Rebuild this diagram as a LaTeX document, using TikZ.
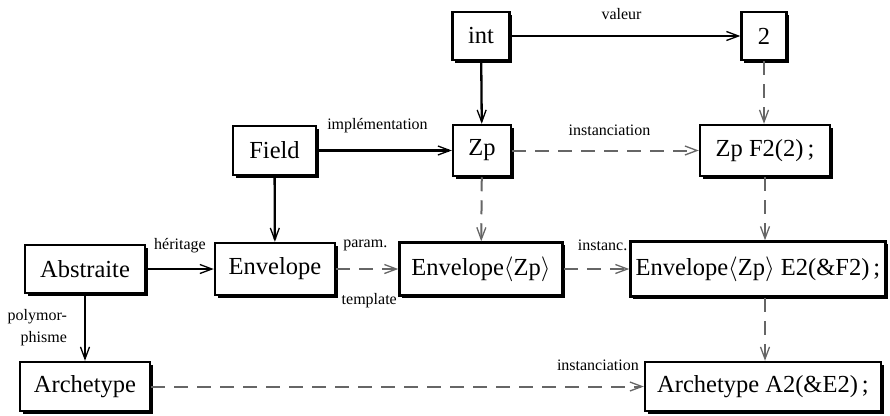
\documentclass[tikz,border=0pt]{standalone}
\usepackage{fontspec}
\setmainfont{Liberation Serif}
\usetikzlibrary{arrows.meta,shadows}
\begin{document}
\begin{tikzpicture}[x=1pt,y=-1pt,
  box/.style={draw=black, line width=2.5pt, fill=white, font=\fontsize{24.5}{27}\selectfont,
    inner sep=0pt, minimum height=48pt,
    drop shadow={shadow xshift=2.6pt, shadow yshift=-2.6pt, fill=black, opacity=1}},
  tip/.style={-{Straight Barb[length=12pt,width=9pt,line width=1.3pt]}},
  sol/.style={tip, line width=2.3pt, draw=black},
  dsh/.style={tip, line width=2pt, draw=black!60, dash pattern=on 14pt off 9pt},
  lbl/.style={font=\fontsize{16}{22}\selectfont, inner sep=0pt, text=black}]
\useasboundingbox (0,0) rectangle (890,415);

\node[box, minimum width=57pt] (int) at (481,36) {int};
\node[box, minimum width=45pt] (two) at (764,36) {2};
\node[box, minimum width=83pt, minimum height=49pt] (field) at (274.5,150.5) {Field};
\node[box, minimum width=58pt, minimum height=51pt] (zp) at (482,150.5) {Zp};
\node[box, minimum width=130pt, minimum height=51pt] (zpf) at (765,150.5) {Zp F2(2)\,;};
\node[box, minimum width=120pt] (abs) at (85,269) {Abstraite};
\node[box, minimum width=120pt, minimum height=52pt] (env) at (275,269) {Envelope};
\node[box, minimum width=163pt, minimum height=53pt] (envzp) at (481,269) {Envelope$\langle$Zp$\rangle$};
\node[box, minimum width=255pt, minimum height=55pt] (e2) at (758,269) {Envelope$\langle$Zp$\rangle$ E2(\&F2)\,;};
\node[box, minimum width=130pt, minimum height=49pt] (arch) at (85,386.5) {Archetype};
\node[box, minimum width=236pt, minimum height=49pt] (a2) at (763,386.5) {Archetype A2(\&E2)\,;};

\draw[sol] (int) -- (two) node[lbl, midway, anchor=base, yshift=17pt, xshift=-4pt] {valeur};
\draw[sol] (int) -- (zp);
\draw[sol] (field) -- (zp) node[lbl, midway, anchor=base, yshift=21pt, xshift=-7pt] {implémentation};
\draw[sol] (field) -- (env);
\draw[dsh] (zp) -- (zpf) node[lbl, midway, anchor=base, yshift=15pt, xshift=4pt] {instanciation};
\draw[dsh] (two.south) -- (two.south |- zpf.north);
\draw[dsh] (zp) -- (envzp);
\draw[dsh] (zpf.south) -- (zpf.south |- e2.north);
\draw[sol] (abs) -- (env) node[lbl, midway, anchor=base, yshift=20pt] {héritage};
\draw[dsh] (env) -- (envzp)
  node[lbl, midway, anchor=base, yshift=22pt, xshift=-2pt] {param.}
  node[lbl, midway, anchor=base, yshift=-35pt, xshift=2pt] {template};
\draw[dsh] (envzp) -- (e2) node[lbl, pos=1, anchor=base east, yshift=19pt, xshift=-1pt] {instanc.};
\draw[dsh] (zpf.south |- e2.south) -- (zpf.south |- a2.north);
\draw[sol] (abs) -- (arch) node[lbl, midway, anchor=east, xshift=-17pt, align=right] {polymor-\\phisme};
\draw[dsh] (arch) -- (a2) node[lbl, pos=1, anchor=base east, yshift=16pt, xshift=-4pt] {instanciation};
\end{tikzpicture}
\end{document}
